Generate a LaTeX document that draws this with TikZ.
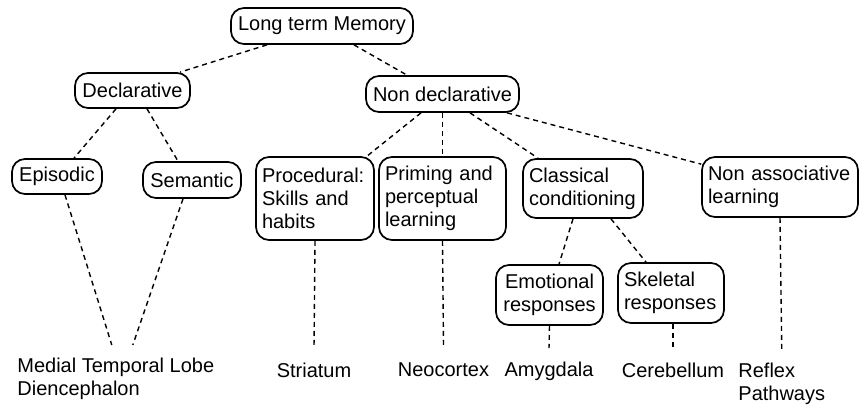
\documentclass[tikz,border=0pt]{standalone}
\usepackage{fontspec}
\setmainfont{Liberation Sans}
\begin{document}
\begin{tikzpicture}[x=0.5pt,y=-0.5pt,
  box/.style={draw, rounded corners=6.5pt, line width=0.85pt, inner sep=0pt, font=\fontsize{10}{11.5}\selectfont},
  lbl/.style={inner sep=0pt, font=\fontsize{10}{11.5}\selectfont, align=left},
  link/.style={line width=0.7pt, dash pattern=on 2.5pt off 2pt}]
\useasboundingbox (0,0) rectangle (860,405);
% boxes
\node[box, minimum width=91pt, minimum height=18pt] (ltm) at (322,26) {Long term Memory};
\node[box, minimum width=57.5pt, minimum height=17.5pt] (decl) at (132.5,90.5) {Declarative};
\node[box, minimum width=76.5pt, minimum height=18pt] (nondecl) at (442.5,94) {Non declarative};
\node[box, minimum width=45pt, minimum height=17.5pt] (epi) at (57,176.5) {Episodic};
\node[box, minimum width=49pt, minimum height=18pt] (sem) at (192,180) {Semantic};
\node[box, minimum width=59pt, minimum height=41.5pt, text width=53pt, align=left] (proc) at (315,198.5) {Procedural:\\Skills and\\habits};
\node[box, minimum width=63.5pt, minimum height=41.5pt, text width=57.5pt, align=left] (prim) at (442.5,198.5) {Priming and\\perceptual\\learning};
\node[box, minimum width=60pt, minimum height=29.5pt, text width=54pt, align=left] (class) at (583,188.5) {Classical\\conditioning};
\node[box, minimum width=78pt, minimum height=30pt, text width=72pt, align=left] (nonassoc) at (780,187) {Non associative\\learning};
\node[box, minimum width=53.5pt, minimum height=30pt, text width=47.5pt, align=center] (emo) at (549.5,295) {Emotional\\responses};
\node[box, minimum width=53pt, minimum height=30pt, text width=47pt, align=left] (skel) at (671,293) {Skeletal\\responses};
% labels
\node[lbl, anchor=north west] (mtl) at (17,358) {Medial Temporal Lobe\\Diencephalon};
\node[lbl, anchor=base] (stri) at (314,377) {Striatum};
\node[lbl, anchor=base] (neo) at (443.5,376) {Neocortex};
\node[lbl, anchor=base] (amy) at (549,376) {Amygdala};
\node[lbl, anchor=base] (cere) at (673,377) {Cerebellum};
\node[lbl, anchor=north west] (refl) at (738,363) {Reflex\\Pathways};
% connectors
\draw[link] ([xshift=-27.5pt]ltm.south) -- ([xshift=23.75pt]decl.north);
\draw[link] ([xshift=16pt]ltm.south) -- ([xshift=-17.75pt]nondecl.north);
\draw[link] ([xshift=-8.25pt]decl.south) -- ([xshift=8.5pt]epi.north);
\draw[link] ([xshift=7.25pt]decl.south) -- ([xshift=-7pt]sem.north);
\draw[link] ([xshift=-10.75pt]nondecl.south) -- ([xshift=26pt]proc.north);
\draw[link] (nondecl.south) -- (prim.north);
\draw[link] ([xshift=13.75pt]nondecl.south) -- ([xshift=-22.5pt]class.north);
\draw[link] ([xshift=32.25pt]nondecl.south) -- ([yshift=-4pt]nonassoc.north west);
\draw[link] ([xshift=-5pt]class.south) -- ([xshift=4.75pt]emo.north);
\draw[link] ([xshift=14pt]class.south) -- ([xshift=-12.5pt]skel.north);
\draw[link] ([xshift=4pt]epi.south) -- ([xshift=-2pt,yshift=6.5pt]mtl.north);
\draw[link] ([xshift=-4.5pt]sem.south) -- ([xshift=8.5pt,yshift=6.5pt]mtl.north);
\draw[link] (proc.south) -- ([yshift=7.5pt]stri.north);
\draw[link] (prim.south) -- ([yshift=7.5pt]neo.north);
\draw[link] (emo.south) -- ([yshift=6.5pt]amy.north);
\draw[link] ([xshift=1pt]skel.south) -- ([yshift=6pt]cere.north);
\draw[link] (nonassoc.south) -- ([yshift=6.5pt]refl.north);
\end{tikzpicture}
\end{document}
